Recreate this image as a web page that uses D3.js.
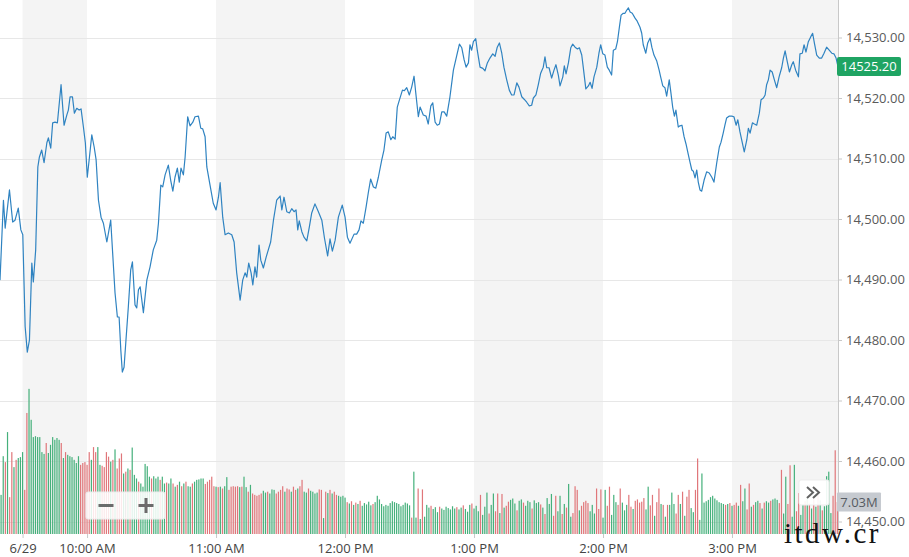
<!DOCTYPE html>
<html><head><meta charset="utf-8">
<script src="https://cdn.jsdelivr.net/npm/d3@7"></script>
<style>html,body{margin:0;padding:0;background:#fff;overflow:hidden}</style>
</head><body>
<svg id="c" width="909" height="557"></svg>
<script>
// ---- DATA ----
// minutes relative to 9:30 (6/29 open); negative = previous session close
const priceMinutes = [-10.5,-8.9,-8.1,-6.1,-4.6,-3.5,-2.0,-0.8,0.1,1.2,2.2,3.2,4.3,5.0,6.1,7.1,7.8,8.9,10.0,11.3,12.0,13.1,14.0,15.1,16.2,17.9,19.3,20.6,21.3,22.1,23.2,24.1,25.2,26.3,27.2,28.3,29.2,30.1,31.1,32.2,33.3,34.2,35.3,36.5,37.6,39.2,41.0,41.9,43.0,44.1,44.9,45.7,46.4,47.2,48.1,49.2,50.3,51.1,52.3,53.1,53.9,54.7,56.2,57.8,59.3,60.8,62.4,63.2,64.3,65.2,66.3,67.8,68.9,69.9,70.9,72.0,72.9,73.7,74.8,75.6,76.8,77.9,79.2,80.2,81.8,82.9,83.8,84.9,85.7,87.2,88.7,90.0,91.1,91.9,93.1,94.2,95.7,97.3,98.4,99.6,101.2,102.4,103.5,104.3,105.2,106.3,107.1,108.1,108.9,110.0,110.8,112.0,113.3,114.3,115.4,116.7,118.2,119.8,120.6,121.6,122.9,124.1,125.2,126.3,127.2,128.0,128.7,129.9,130.9,132.2,133.4,134.5,136.0,137.6,139.2,140.4,141.9,143.0,144.1,145.4,146.9,148.7,150.0,151.1,152.3,154.2,155.4,156.5,157.4,158.5,159.8,160.8,161.9,163.2,164.3,165.5,167.1,168.1,169.1,170.1,171.3,172.2,173.3,174.3,175.3,176.7,177.6,178.7,179.9,181.0,182.1,183.0,184.1,184.9,186.4,187.7,188.7,189.9,190.8,191.9,192.9,193.9,195.0,196.1,197.3,198.8,200.4,202.0,203.2,204.3,205.4,206.3,207.4,208.1,208.9,209.7,210.8,211.5,212.8,214.1,215.1,216.2,217.4,218.7,219.8,220.8,221.8,222.9,223.9,225.2,226.4,227.5,228.6,229.9,230.9,232.2,233.3,234.5,235.7,236.8,237.6,238.8,239.9,241.0,242.2,243.0,243.8,244.9,246.1,247.2,248.1,249.2,250.0,251.3,252.0,252.8,253.9,255.0,255.9,257.0,258.1,259.0,260.1,260.8,262.0,263.2,264.0,264.9,265.8,267.1,268.1,268.9,269.9,270.9,272.0,272.9,274.0,274.8,275.9,276.7,277.6,278.4,279.4,280.2,281.0,281.8,282.6,283.6,284.9,285.9,287.2,288.0,288.7,289.9,290.8,291.9,292.7,293.7,295.0,296.1,296.8,297.8,298.8,299.6,300.8,301.6,302.4,303.2,303.9,305.0,305.8,306.7,307.7,308.6,309.7,310.5,311.3,312.0,312.8,313.6,314.3,315.1,315.9,317.0,318.2,319.4,320.6,321.6,322.9,324.1,324.9,325.9,326.7,327.5,328.6,329.9,330.9,331.9,332.7,333.7,334.8,335.7,336.9,337.6,338.4,339.5,340.4,341.5,342.7,343.5,344.6,345.4,346.1,346.9,347.7,348.7,349.7,350.8,351.9,353.1,353.9,354.7,355.7,356.7,357.8,358.5,359.6,360.9,361.6,362.7,363.5,364.4,365.5,366.6,367.5,368.3,369.4,370.6,371.7,372.8,374.0,375.2,376.4,377.4,378.4,379.3];
const prices = [14489.9,14503.1,14498.5,14504.8,14499.5,14499.8,14501.8,14498.2,14497.4,14482.2,14478.0,14480.0,14492.7,14489.6,14494.9,14508.6,14510.2,14511.4,14509.3,14512.6,14513.4,14511.7,14515.9,14516.0,14515.9,14522.2,14515.5,14517.2,14518.0,14520.2,14520.2,14517.5,14518.3,14518.0,14518.2,14515.2,14512.6,14506.9,14510.2,14513.9,14511.9,14509.8,14503.1,14500.3,14499.3,14496.2,14499.8,14494.4,14487.8,14483.8,14483.8,14478.3,14474.7,14475.5,14480.0,14485.5,14491.6,14492.9,14485.8,14485.3,14488.3,14488.8,14484.5,14489.9,14492.1,14494.9,14496.5,14499.3,14505.6,14505.3,14507.3,14508.9,14506.4,14504.6,14506.9,14508.4,14506.1,14508.4,14507.3,14510.2,14516.9,14515.4,14516.0,14516.9,14517.0,14515.0,14514.9,14513.6,14508.6,14505.6,14502.6,14501.5,14503.6,14506.0,14500.3,14497.4,14497.7,14497.4,14496.2,14491.1,14486.6,14489.9,14491.1,14490.4,14492.7,14491.1,14489.1,14492.1,14490.4,14495.7,14493.2,14491.9,14493.7,14494.9,14496.2,14499.8,14503.1,14503.8,14501.5,14503.6,14501.2,14501.0,14501.7,14501.2,14501.5,14498.2,14499.7,14497.9,14497.0,14496.4,14498.7,14501.0,14502.5,14501.2,14499.8,14496.9,14493.9,14496.7,14494.7,14496.5,14500.3,14502.3,14500.3,14497.0,14496.0,14497.5,14497.5,14498.2,14499.7,14499.3,14502.0,14504.3,14506.6,14505.3,14505.1,14506.9,14509.8,14511.4,14514.2,14514.4,14513.1,14513.6,14513.2,14518.5,14519.7,14521.3,14521.2,14521.7,14520.5,14521.8,14523.6,14520.5,14516.9,14518.5,14517.2,14517.0,14515.7,14518.7,14519.2,14516.0,14515.5,14515.7,14517.7,14517.7,14517.0,14520.2,14524.6,14527.1,14528.9,14528.3,14526.3,14525.1,14525.8,14528.8,14527.9,14529.3,14529.8,14527.9,14525.1,14524.9,14524.5,14525.8,14526.6,14527.3,14526.9,14528.4,14529.1,14527.4,14525.1,14523.0,14521.3,14520.5,14520.5,14522.5,14521.8,14520.2,14519.8,14519.3,14518.7,14518.8,14520.0,14520.5,14522.2,14524.1,14525.1,14526.8,14525.0,14525.0,14523.3,14524.6,14525.5,14523.8,14522.0,14523.5,14525.3,14524.0,14525.8,14528.3,14528.9,14528.4,14528.1,14528.3,14527.1,14525.1,14521.5,14522.0,14522.6,14521.6,14523.5,14525.1,14527.4,14528.8,14527.3,14527.1,14525.1,14524.6,14523.8,14527.9,14528.1,14529.3,14531.7,14533.7,14534.0,14534.0,14534.5,14534.9,14534.2,14534.0,14533.2,14532.7,14531.7,14530.7,14528.8,14527.4,14529.1,14529.9,14528.4,14527.1,14526.1,14524.6,14523.5,14522.0,14521.7,14520.3,14523.0,14520.8,14518.5,14517.0,14518.0,14515.2,14515.4,14515.5,14513.6,14512.4,14510.6,14509.3,14508.1,14507.9,14506.8,14508.1,14506.1,14504.8,14504.6,14506.4,14507.8,14507.6,14506.9,14506.1,14509.3,14511.9,14512.7,14514.2,14515.5,14516.7,14517.0,14517.0,14516.9,14515.5,14516.4,14514.4,14512.6,14511.1,14513.1,14515.0,14514.2,14515.9,14515.7,14515.5,14517.5,14519.7,14520.0,14520.5,14522.2,14523.0,14524.6,14524.3,14523.0,14521.7,14523.5,14525.0,14526.6,14527.8,14526.0,14524.3,14525.5,14526.0,14524.6,14523.5,14527.3,14527.4,14528.8,14527.6,14529.3,14530.1,14530.7,14529.1,14527.1,14526.6,14526.6,14527.4,14528.4,14527.9,14527.4,14527.3,14526.6,14525.2];
const lastPrice = 14525.20;

// per-minute volume (millions), first bar at minute -10
const volumeStartMinute = -10;
const volumes = [
8.6,17.1,15.8,22.4,8.1,18.0,14.7,16.3,16.7,16.9,18.0,9.7,26.6,31.9,25.1,21.3,21.5,21.3,21.3,18.0,17.6,20.0,17.8,19.6,21.3,20.7,21.1,20.7,20.0,16.7,18.0,17.4,17.1,16.9,16.3,15.6,17.1,15.2,15.6,15.8,15.2,18.0,16.3,19.1,18.0,19.1,15.2,15.0,14.7,18.0,
17.0,15.9,16.3,18.6,14.4,16.6,17.7,13.3,13.7,14.4,14.1,19.0,13.0,12.2,11.5,
11.1,10.4,15.4,14.9,12.6,12.2,12.7,12.2,12.6,11.9,12.6,11.1,11.3,11.1,
12.2,11.1,10.4,10.8,11.5,10.5,11.1,11.5,10.5,10.4,11.1,11.5,11.9,12.0,12.2,
12.2,11.0,11.5,11.9,12.6,10.5,10.4,10.3,10.4,10.0,10.5,12.5,9.7,10.4,10.5,
10.4,10.5,10.3,10.4,12.6,10.3,9.3,10.8,8.9,8.6,8.4,8.6,8.9,9.5,9.1,
9.3,8.9,9.8,9.7,8.9,9.3,9.7,10.5,9.3,10.0,9.8,9.3,10.4,9.7,10.0,10.5,
11.9,9.3,9.1,10.0,9.5,9.3,8.9,9.1,9.8,9.7,3.5,9.3,9.0,9.7,8.9,9.3,8.6,8.4,8.2,8.4,8.0,
7.0,6.7,7.2,6.4,6.9,6.6,7.3,6.2,6.8,6.5,7.1,6.3,6.6,7.0,8.4,7.6,6.6,6.1,6.4,6.2,6.8,7.2,7.0,6.8,6.6,6.1,6.4,6.9,6.7,6.3,3.6,13.7,
3.6,10.0,3.3,9.8,3.8,6.4,5.8,6.2,5.5,5.9,4.8,6.0,5.6,5.3,6.0,5.7,5.4,6.1,5.6,5.9,5.4,5.8,6.3,5.5,4.9,6.4,6.7,5.6,6.2,5.0,
8.6,4.2,6.0,9.1,4.5,6.4,8.9,5.0,8.9,4.6,8.8,5.8,6.2,7.1,7.5,7.8,6.7,5.2,7.3,7.6,6.9,6.2,7.3,7.0,5.6,7.4,6.8,7.0,6.5,5.8,4.4,7.9,6.6,
8.8,4.0,8.4,5.0,8.4,4.4,6.6,5.8,11.0,3.8,4.6,10.5,9.7,5.2,6.2,7.0,7.3,6.8,5.0,6.4,4.5,10.0,5.5,
9.8,3.6,9.7,6.2,10.4,4.2,8.6,7.0,6.4,10.0,6.9,5.2,6.4,8.6,6.0,5.5,
7.3,7.6,6.9,7.1,7.9,5.4,10.4,6.3,8.6,4.0,7.0,10.0,6.6,6.4,3.8,6.4,
6.4,9.1,6.6,4.5,8.6,6.6,9.3,4.0,8.2,9.7,5.7,4.8,9.7,16.6,
3.1,13.3,6.9,7.2,7.5,8.1,8.4,7.8,7.4,7.0,6.8,6.6,6.4,6.6,6.8,6.2,
6.4,6.9,6.2,10.8,7.2,10.0,5.4,11.1,6.0,6.4,7.0,7.3,6.8,5.6,6.9,7.2,
6.9,7.3,7.6,7.8,7.5,6.8,14.1,4.5,12.6,6.6,15.1,3.8,15.2,5.0,9.0,4.2,
6.4,7.2,8.1,6.7,5.6,7.9,6.0,8.6,7.4,5.2,6.1,12.7,13.7,4.6,8.4,18.4,7.03];
// g = up minute, r = down minute
const volumeDirs =
"ggrgrrgrgg"+"grrggggggg"+"grggggggrg"+"rggggggrrr"+"rrgrrggrrr"+
"rgrgrrrgrgrgggr"+"gggggrgggrggrg"+"grgrgrgrggrgggg"+"grrrrrgrgrggrrr"+"rrgrggrgrrrrrgg"+"rgggrrrrgrrgrrgr"+
"rggrggggrrgrgrgrrgggg"+
"rgrgrgrgggggrgggggggggggggggggrg"+
"grgrgggrgggrgggggggrggrgggrggg"+
"rgggrggrrgrgrrgggrggrgggrgggrgrgg"+
"grrggrgrggrrrgrrrrgggr"+"r"+
"rggrrgggrrgggrrg"+"rrrrrggrrgrrgrgr"+"gggrrgrgrrggrr"+"ggggggggggggrgrg"+"rrgrggrrgrggrgrg"+"grgggrrggrrggrrg"+"grgrgrgrgrggggrrr";

const volumeLabel = "7.03M";
const yTicks = [14450,14460,14470,14480,14490,14500,14510,14520,14530];
const xTickMinutes = [0,30,90,150,210,270,330];
const xTickLabels = ["6/29","10:00 AM","11:00 AM","12:00 PM","1:00 PM","2:00 PM","3:00 PM"];
const bandStarts = [0,90,210,330];
const bandEnds = [30,150,270,379.3];

// ---- CHART ----
const svg = d3.select("#c");
const plotR = 838, plotB = 534;
const font = "'Open Sans', 'DejaVu Sans', sans-serif";

const x = d3.scaleLinear().domain([-10.5, 379.3]).range([0, plotR]);
const y = d3.scaleLinear().domain([14450, 14530]).range([521.5, 37.5]);
const v = d3.scaleLinear().domain([0, 32]).range([plotB, 388.4]);

// background bands
svg.append("g").selectAll("rect").data(bandStarts).join("rect")
  .attr("x", (d,i) => x(d)).attr("y", 0)
  .attr("width", (d,i) => x(bandEnds[i]) - x(d)).attr("height", plotB)
  .attr("fill", "#f4f4f4");

// gridlines
svg.append("g").selectAll("line").data(yTicks).join("line")
  .attr("x1", 0).attr("x2", plotR)
  .attr("y1", d => Math.round(y(d)) + 0.5).attr("y2", d => Math.round(y(d)) + 0.5)
  .attr("stroke", "#e7e7e7").attr("stroke-width", 1);

// volume bars
const vdata = volumes.map((val, i) => ({m: volumeStartMinute + i, val, dir: volumeDirs[i] || "g"}));
svg.append("g").selectAll("rect").data(vdata).join("rect")
  .attr("x", d => x(d.m) - 0.6).attr("width", 1.2)
  .attr("y", d => v(d.val)).attr("height", d => plotB - v(d.val))
  .attr("fill", d => d.dir === "g" ? "#45b07b" : "#e0767a");

// price line
const n = Math.min(priceMinutes.length, prices.length);
const pts = d3.range(n).map(i => [priceMinutes[i], prices[i]]);
svg.append("path").datum(pts)
  .attr("d", d3.line().x(d => x(d[0])).y(d => y(d[1])))
  .attr("fill", "none").attr("stroke", "#2f83c1").attr("stroke-width", 1.2)
  .attr("stroke-linejoin", "round");

// y axis (right)
const ya = svg.append("g").attr("transform", `translate(${plotR},0)`)
  .call(d3.axisRight(y).tickValues(yTicks).tickFormat(d3.format(",.2f")).tickSize(4).tickPadding(4));
ya.select(".domain").remove();
ya.selectAll(".tick line").attr("stroke", "#c8c8c8");
ya.selectAll(".tick text").attr("fill", "#5a5a5a").style("font-family", font).style("font-size", "13px");
svg.append("line").attr("x1", plotR + 0.5).attr("x2", plotR + 0.5).attr("y1", 0).attr("y2", plotB)
  .attr("stroke", "#c8c8c8");

// x axis (bottom)
const xa = svg.append("g").attr("transform", `translate(0,${plotB})`)
  .call(d3.axisBottom(x).tickValues(xTickMinutes).tickFormat((d,i) => xTickLabels[i]).tickSize(4).tickPadding(6));
xa.select(".domain").remove();
xa.selectAll(".tick line").attr("stroke", "#c8c8c8");
xa.selectAll(".tick text").attr("fill", "#444").style("font-family", font).style("font-size", "13px");

// last price tag
const py = y(lastPrice);
svg.append("rect").attr("x", plotR - 1).attr("y", py - 9.5).attr("width", 64).attr("height", 19).attr("rx", 2)
  .attr("fill", "#1fa463");
svg.append("text").attr("x", plotR + 31).attr("y", py).attr("dy", "0.35em").attr("text-anchor", "middle")
  .attr("fill", "#fff").style("font-family", font).style("font-size", "13px").text(d3.format(".2f")(lastPrice));

// volume tag
const lastVol = volumes[volumes.length - 1];
const vy = v(lastVol);
svg.append("rect").attr("x", plotR - 1).attr("y", vy - 9.5).attr("width", 44).attr("height", 19).attr("rx", 1)
  .attr("fill", "#c6cad0");
svg.append("text").attr("x", plotR + 21).attr("y", vy).attr("dy", "0.35em").attr("text-anchor", "middle")
  .attr("fill", "#555b62").style("font-family", font).style("font-size", "13px").text(volumeLabel);

// zoom buttons
const zb = svg.append("g");
zb.append("rect").attr("x", 86).attr("y", 492).attr("width", 79).attr("height", 27).attr("rx", 2)
  .attr("fill", "#fff").attr("fill-opacity", 0.85).attr("stroke", "#ececec");
zb.append("line").attr("x1", 125.5).attr("x2", 125.5).attr("y1", 494).attr("y2", 517).attr("stroke", "#eeeeee");
zb.append("rect").attr("x", 98.5).attr("y", 504).attr("width", 15).attr("height", 3).attr("fill", "#6b6b6b");
zb.append("rect").attr("x", 138.5).attr("y", 504).attr("width", 15).attr("height", 3).attr("fill", "#6b6b6b");
zb.append("rect").attr("x", 144.5).attr("y", 498).attr("width", 3).attr("height", 15).attr("fill", "#6b6b6b");

// expand button
const eb = svg.append("g");
eb.append("rect").attr("x", 799).attr("y", 480).attr("width", 30).attr("height", 25).attr("rx", 2)
  .attr("fill", "#fff").attr("fill-opacity", 0.92).attr("stroke", "#ededed");
eb.append("path").attr("d", "M807,487 L813,492.5 L807,498 M813,487 L819,492.5 L813,498")
  .attr("fill", "none").attr("stroke", "#616161").attr("stroke-width", 2);

// watermark
svg.append("text").attr("x", 784).attr("y", 543)
  .style("font-family", "'Liberation Serif','DejaVu Serif',serif").style("font-size", "29px")
  .style("letter-spacing", "2.5px").attr("fill", "#111").text("itdw.cr");
</script>
</body></html>
